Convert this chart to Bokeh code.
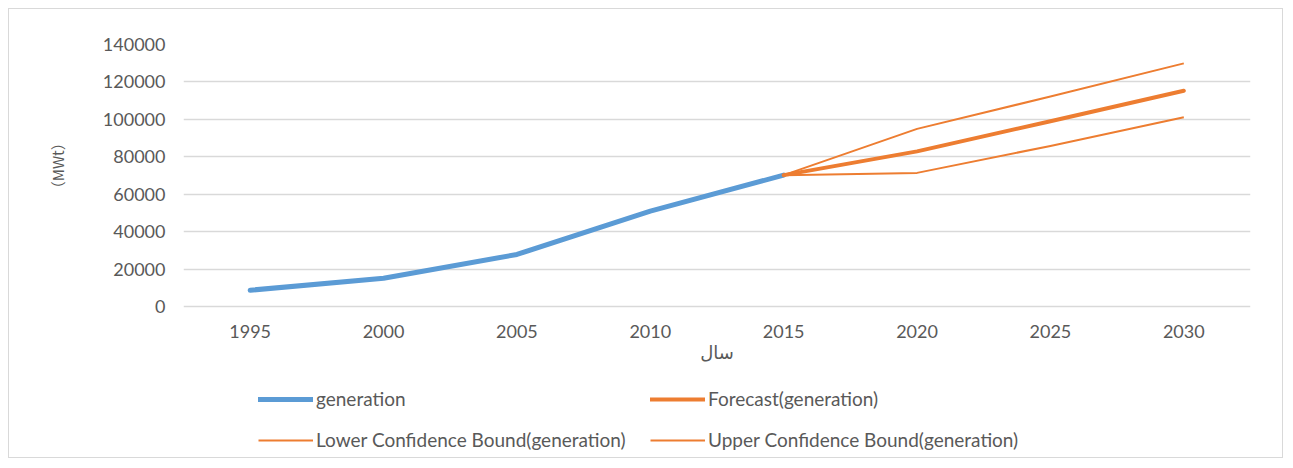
from bokeh.plotting import figure
from bokeh.models import (FactorRange, Range1d, FixedTicker, BasicTickFormatter, Legend,
                          LegendItem, CategoricalAxis)
from bokeh.embed import file_html
from bokeh.resources import INLINE

# ---- data ----
years = ["1995", "2000", "2005", "2010", "2015", "2020", "2025", "2030"]
gen_years = ["1995", "2000", "2005", "2010", "2015"]
generation = [8700, 15100, 27800, 51000, 70200]
fc_years = ["2015", "2020", "2025", "2030"]
forecast = [70200, 82900, 99000, 115300]
lower_bound = [70200, 71400, 85800, 101100]
upper_bound = [70200, 94900, 112200, 129900]
y_ticks = [0, 20000, 40000, 60000, 80000, 100000, 120000, 140000]
y_title = "（MWt）"
x_title = "سال"

BLUE = "#5B9BD5"
ORANGE = "#ED7D31"
TXT = "#595959"
FONT = "Lato"

# layout (pixels)
W, H = 1275, 450
TOP, LEFT, RIGHT = 35, 174, 34
ZERO_Y = 297                      # pixel row of the value 0 inside the figure
y_max = y_ticks[-1]
plot_px = ZERO_Y - TOP
y_min = -y_max * (H - ZERO_Y) / plot_px   # extra room below the axis for the legend

p = figure(
    x_range=FactorRange(*years, range_padding=0),
    y_range=Range1d(y_min, y_max),
    width=W, height=H,
    output_backend="svg", toolbar_location=None,
    min_border_left=LEFT, min_border_right=RIGHT, min_border_top=TOP, min_border_bottom=0,
)
p.margin = (8, 0, 0, 8)
p.styles = {"border": "1px solid #d9d9d9"}
p.outline_line_color = None
p.background_fill_color = "white"

r_gen = p.line(gen_years, generation, line_color=BLUE, line_width=5, line_cap="round", line_join="round")
r_low = p.line(fc_years, lower_bound, line_color=ORANGE, line_width=2, line_join="round")
r_up = p.line(fc_years, upper_bound, line_color=ORANGE, line_width=2, line_join="round")
r_fc = p.line(fc_years, forecast, line_color=ORANGE, line_width=4, line_cap="round", line_join="round")

# default x axis hidden; a category axis fixed at y = 0 instead
p.xaxis.visible = False
xax = CategoricalAxis(fixed_location=0)
p.add_layout(xax, "below")

p.xgrid.grid_line_color = None
p.ygrid.grid_line_color = "#d9d9d9"
p.ygrid.grid_line_width = 1.5
p.yaxis.ticker = FixedTicker(ticks=y_ticks)
p.yaxis.formatter = BasicTickFormatter(use_scientific=False)
p.yaxis.bounds = (0, y_max)

for ax in (xax, p.yaxis[0]):
    ax.axis_line_color = None
    ax.major_tick_line_color = None
    ax.minor_tick_line_color = None
    ax.major_tick_out = 0
    ax.major_tick_in = 0
    ax.major_label_text_color = TXT
    ax.major_label_text_font = FONT
    ax.major_label_text_font_size = "18px"
    ax.axis_label_text_color = TXT
    ax.axis_label_text_font_style = "normal"

p.yaxis.major_label_standoff = 18
# leading ideographic spaces lift the centred title up to the middle of the 0..140000 area
p.yaxis.axis_label = "\u3000" * 12 + y_title
p.yaxis.axis_label_text_font = "Noto Sans CJK SC"
p.yaxis.axis_label_text_font_size = "15px"
p.yaxis.axis_label_standoff = 32

xax.major_label_standoff = 18
xax.axis_label = x_title
xax.axis_label_text_font = "DejaVu Sans"
xax.axis_label_text_font_size = "18px"
xax.axis_label_standoff = 1

legend = Legend(
    items=[
        LegendItem(label="generation", renderers=[r_gen]),
        LegendItem(label="Forecast(generation)", renderers=[r_fc]),
        LegendItem(label="Lower Confidence Bound(generation)", renderers=[r_low]),
        LegendItem(label="Upper Confidence Bound(generation)", renderers=[r_up]),
    ],
    location=(75, 8),
    orientation="horizontal",
    ncols=2,
    padding=0,
    margin=0,
    spacing=18,
    glyph_width=55,
    glyph_height=20,
    label_height=20,
    label_width=316,
    label_standoff=3,
    label_text_font=FONT,
    label_text_font_size="19px",
    label_text_color=TXT,
    border_line_color=None,
    background_fill_alpha=0,
)
p.add_layout(legend, "center")

open("out.html", "w").write(file_html(p, INLINE))
